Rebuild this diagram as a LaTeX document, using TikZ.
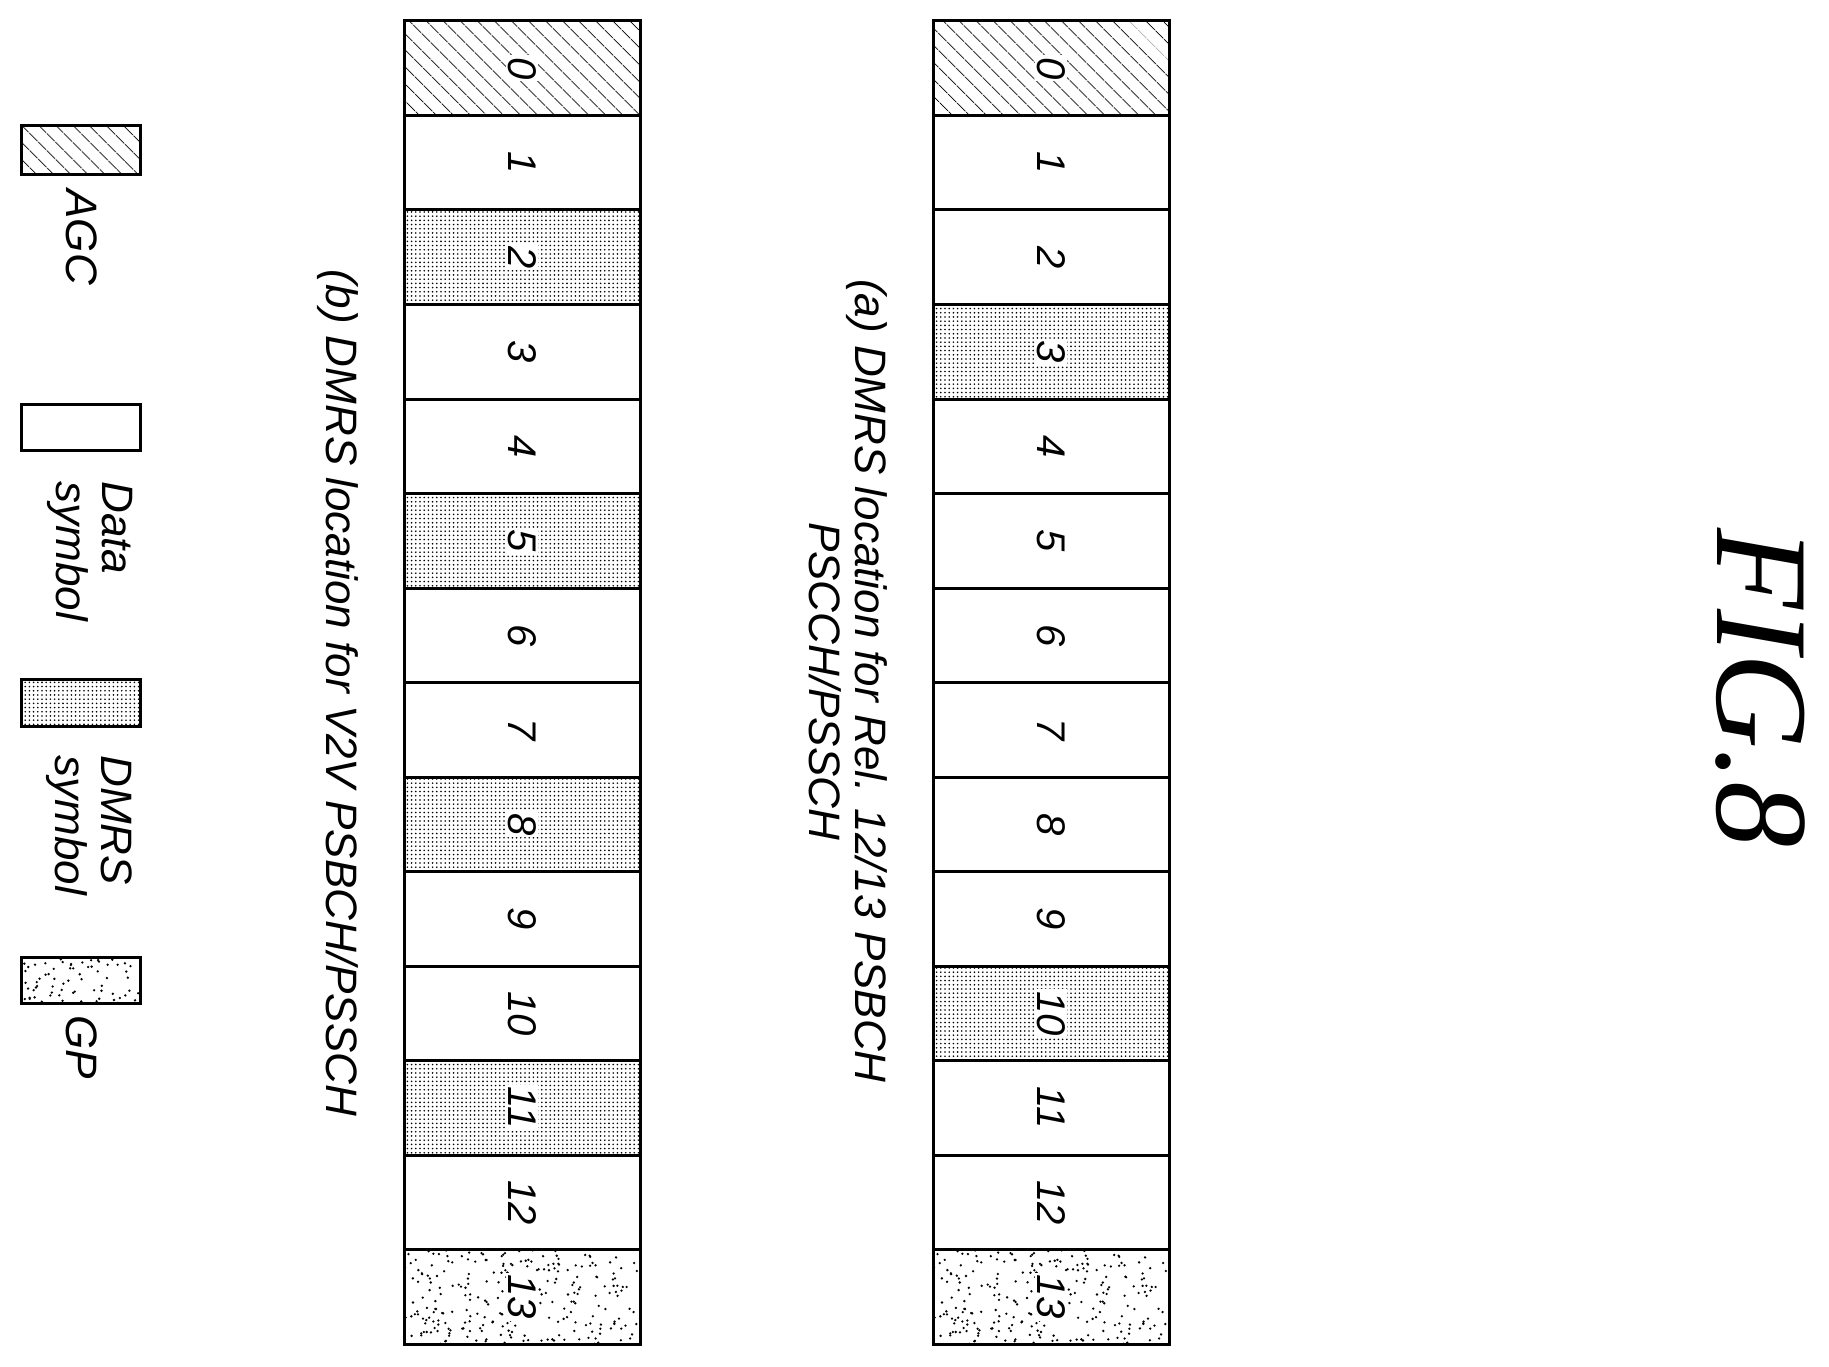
\documentclass[tikz,border=0pt]{standalone}
\usepackage{fontspec}
\setmainfont{Liberation Serif}
\setsansfont{Liberation Sans}
\usetikzlibrary{patterns.meta}
\newcommand{\gpdots}[5]{% x1 y1 x2 y2 count
  \begin{scope}
  \clip (#1,#2) rectangle (#3,#4);
  \pgfmathsetseed{7}
  \foreach \k in {1,...,#5}{
    \pgfmathsetmacro{\px}{#1+rnd*(#3-#1)}
    \pgfmathsetmacro{\py}{#2+rnd*(#4-#2)}
    \fill (\px,\py) circle (1.3pt);
  }
  \end{scope}}
\begin{document}
\begin{tikzpicture}[x=1pt,y=-1pt,
  cell/.style={draw=black,line width=3pt},
  agc/.style={cell,pattern={Lines[angle=-45,distance=13pt,line width=0.9pt]}},
  dmrs/.style={cell,pattern={Dots[distance=4.2pt,radius=0.9pt]}},
  gp/.style={cell},
  num/.style={rotate=-90,font=\sffamily\itshape\fontsize{40}{44}\selectfont,inner sep=2pt,fill=white},
  lab/.style={rotate=-90,font=\sffamily\itshape\fontsize{44}{46}\selectfont,align=center}]
\useasboundingbox (0,0) rectangle (1829,1367);
\foreach \bx/\nm/\dm in {933/a/{3,10},404/b/{2,5,8,11}}{
  \foreach \i in {0,...,13}{
    \pgfmathsetmacro{\ya}{21+94.5*\i}
    \pgfmathsetmacro{\yb}{21+94.5*(\i+1)}
    \global\def\st{cell}
    \ifnum\i=0 \global\def\st{agc}\fi
    \ifnum\i=13 \gpdots{\bx}{\ya}{\bx+236}{\yb}{260}\global\def\st{gp}\fi
    \foreach \d in \dm {\ifnum\d=\i \global\def\st{dmrs}\fi}
    \path[\st] (\bx,\ya) rectangle (\bx+236,\yb);
    \node[num] (\nm\i) at (\bx+118,{(\ya+\yb)/2}) {\i};
  }
}
\node[lab] (capa) at (848,681) {(a) DMRS location for Rel. 12/13 PSBCH\\PSCCH/PSSCH};
\node[lab] (capb) at (338,693) {(b) DMRS location for V2V PSBCH/PSSCH};
\path[agc] (21,126) rectangle (140,175);
\path[cell] (21,404) rectangle (140,450);
\path[dmrs] (21,679) rectangle (140,726);
\gpdots{21}{957}{140}{1003}{70}
\path[gp] (21,957) rectangle (140,1003);
\node[lab,anchor=west] (lagc) at (82,186) {AGC};
\node[lab,anchor=north west,align=left] (ldata) at (136,478) {Data\\symbol};
\node[lab,anchor=north west,align=left] (ldmrs) at (136,752) {DMRS\\symbol};
\node[lab,anchor=west] (lgp) at (82,1012) {GP};
\node[rotate=-90,font=\itshape\fontsize{132}{140}\selectfont] (fig) at (1760,688) {FIG.8};
\end{tikzpicture}
\end{document}
